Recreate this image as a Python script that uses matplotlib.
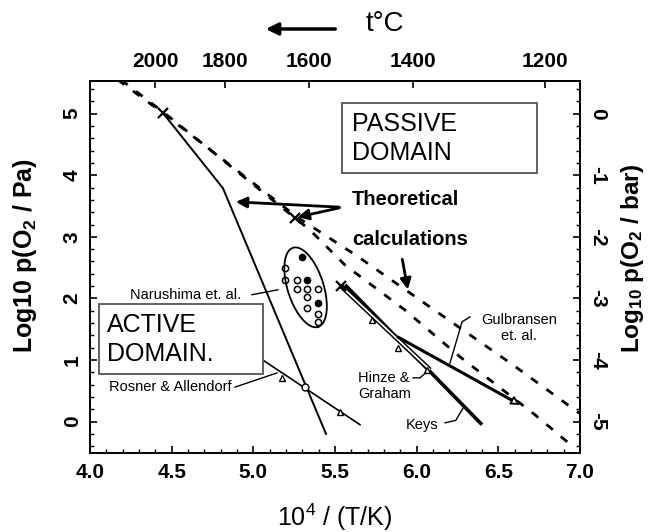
import numpy as np
import matplotlib
matplotlib.use('Agg')
import matplotlib.pyplot as plt
from matplotlib.patches import Rectangle, FancyArrowPatch
from matplotlib.ticker import AutoMinorLocator, FixedLocator

plt.rcParams['font.family'] = ['Liberation Sans', 'DejaVu Sans']
plt.rcParams['mathtext.fontset'] = 'custom'
plt.rcParams['mathtext.rm'] = 'Liberation Sans'
plt.rcParams['mathtext.bf'] = 'Liberation Sans:bold'
plt.rcParams['mathtext.it'] = 'Liberation Sans:italic'

# ---- data (x = 10^4/T, y = log10 p(O2/Pa)) ----
# theoretical calculations (two dashed curves)
theo_u_x = [4.17, 4.447, 5.268, 5.635, 6.125, 6.590, 6.952, 7.00]
theo_u_y = [5.55, 5.01, 3.32, 2.69, 1.78, 0.92, 0.22, 0.13]
theo_m_x = [4.19, 4.47, 5.347, 5.562, 5.929, 6.266, 6.725, 6.958]
theo_m_y = [5.55, 4.98, 3.11, 2.54, 1.81, 1.05, 0.11, -0.41]

# active/passive transition (solid steep line)
trans_x = [4.447, 4.814, 5.445]
trans_y = [5.01, 3.79, -0.20]

# Rosner & Allendorf
rosner_x = [4.95, 5.653]
rosner_y = [1.19, -0.05]
rosner_tri_x = [5.176, 5.531]
rosner_tri_y = [0.71, 0.16]
rosner_circ_x = [5.317]
rosner_circ_y = [0.56]

# Keys
keys_x = [5.562, 6.400]
keys_y = [2.22, -0.05]

# Hinze & Graham
hinze_x = [5.537, 6.082]
hinze_y = [2.20, 0.84]
hinze_tri_x = [5.727, 5.886, 6.064]
hinze_tri_y = [1.65, 1.20, 0.84]

# Gulbransen et. al.
gulb_x = [5.880, 6.615]
gulb_y = [1.38, 0.30]

# Narushima et. al.
naru_open_x = [5.194, 5.194, 5.268, 5.268, 5.329, 5.396, 5.329, 5.329, 5.396, 5.396]
naru_open_y = [2.50, 2.30, 2.30, 2.15, 2.15, 2.15, 2.02, 1.85, 1.75, 1.62]
naru_fill_x = [5.298, 5.329, 5.396]
naru_fill_y = [2.67, 2.30, 1.93]

cross_x = [4.447, 5.255, 5.537]
cross_y = [5.01, 3.31, 2.20]

temp_ticks = [2000, 1800, 1600, 1400, 1200]

W, H = 653, 532
xmin, xmax = 4.0, 7.0
ymin, ymax = -0.51, 5.53

fig = plt.figure(figsize=(W / 100, H / 100), dpi=100)
ax = fig.add_axes([0.1378, 0.1485, 0.7504, 0.6992])
ax.set_xlim(xmin, xmax)
ax.set_ylim(ymin, ymax)

# dashed theoretical lines
for xs, ys in [(theo_u_x, theo_u_y), (theo_m_x, theo_m_y)]:
    ln, = ax.plot(xs, ys, color='black', lw=2.0)
    ln.set_dashes((3.0, 3.8))

ax.plot(trans_x, trans_y, color='black', lw=1.4)
ax.plot(rosner_x, rosner_y, color='black', lw=1.2)
ax.plot(rosner_tri_x, rosner_tri_y, ls='none', marker='^', ms=5, mfc='white', mec='black', mew=1)
ax.plot(rosner_circ_x, rosner_circ_y, ls='none', marker='o', ms=5, mfc='white', mec='black', mew=1)

ax.plot(keys_x, keys_y, color='black', lw=2.6, solid_capstyle='butt')
ax.plot(hinze_x, hinze_y, color='black', lw=3.4, solid_capstyle='butt')
ax.plot(hinze_x, hinze_y, color='white', lw=1.3, solid_capstyle='butt')
ax.plot(hinze_tri_x, hinze_tri_y, ls='none', marker='^', ms=5, mfc='white', mec='black', mew=1)

ax.plot(gulb_x, gulb_y, color='black', lw=2.2, solid_capstyle='butt')
g_slope = (gulb_y[1] - gulb_y[0]) / (gulb_x[1] - gulb_x[0])
ax.annotate('', xy=(gulb_x[1] + 0.02, gulb_y[1] + 0.02 * g_slope),
            xytext=(gulb_x[1] - 0.06, gulb_y[1] - 0.06 * g_slope),
            arrowprops=dict(arrowstyle='-|>', fc='white', ec='black', lw=1.4,
                            mutation_scale=13, shrinkA=0, shrinkB=0))

ax.plot(naru_open_x, naru_open_y, ls='none', marker='o', ms=4.5, mfc='white', mec='black', mew=1.1)
ax.plot(naru_fill_x, naru_fill_y, ls='none', marker='o', ms=4.5, mfc='black', mec='black')
ax.plot(cross_x, cross_y, ls='none', marker='x', ms=7, mec='black', mew=1.6)

# ellipse round Narushima points, drawn in pixel units
pos = ax.get_position()
sx = pos.width * W / (xmax - xmin)
sy = pos.height * H / (ymax - ymin)
tt = np.linspace(0, 2 * np.pi, 200)
ang = np.deg2rad(-72.4)
ex = 41.5 * np.cos(tt) * np.cos(ang) - 18 * np.sin(tt) * np.sin(ang)
ey = 41.5 * np.cos(tt) * np.sin(ang) + 18 * np.sin(tt) * np.cos(ang)
ax.plot(5.320 + ex / sx, 2.18 + ey / sy, color='black', lw=1.3)

# boxes
ax.add_patch(Rectangle((5.543, 4.04), 1.194, 1.13, fc='white', ec='#555555', lw=1.3, zorder=3))
ax.text(5.604, 4.60, 'PASSIVE\nDOMAIN', fontsize=18, ha='left', va='center', linespacing=1.25, zorder=4)
ax.add_patch(Rectangle((4.055, 0.774), 1.004, 1.136, fc='white', ec='#555555', lw=1.3, zorder=3))
ax.text(4.104, 1.33, 'ACTIVE\nDOMAIN.', fontsize=18, ha='left', va='center', linespacing=1.25, zorder=4)

# annotations
ax.text(5.604, 3.60, 'Theoretical', fontsize=14.5, fontweight='bold', ha='left', va='center')
ax.text(5.604, 2.95, 'calculations', fontsize=14.5, fontweight='bold', ha='left', va='center')
for tip in [(4.876, 3.57), (5.255, 3.31)]:
    ax.annotate('', xy=tip, xytext=(5.543, 3.48),
                arrowprops=dict(arrowstyle='-|>', color='black', lw=2, mutation_scale=16))
ax.annotate('', xy=(5.949, 2.10), xytext=(5.909, 2.68),
            arrowprops=dict(arrowstyle='-|>', color='black', lw=2, mutation_scale=16))

ax.text(4.588, 2.06, 'Narushima et. al.', fontsize=10.5, ha='center', va='center')
ax.plot([4.992, 5.151], [2.06, 2.14], color='black', lw=1)
ax.text(4.49, 0.56, 'Rosner & Allendorf', fontsize=10.5, ha='center', va='center')
ax.plot([4.888, 5.145], [0.56, 0.79], color='black', lw=1)
ax.text(6.627, 1.52, 'Gulbransen\net. al.', fontsize=10.5, ha='center', va='center', linespacing=1.2)
ax.plot([6.327, 6.278, 6.204], [1.70, 1.62, 0.95], color='black', lw=1)
ax.text(5.641, 0.58, 'Hinze &\nGraham', fontsize=10.5, ha='left', va='center', linespacing=1.2)
ax.plot([5.978, 6.02, 6.055], [0.71, 0.71, 0.79], color='black', lw=1)
ax.text(6.033, -0.05, 'Keys', fontsize=10.5, ha='center', va='center')
ax.plot([6.174, 6.24, 6.284], [-0.02, 0.02, 0.22], color='black', lw=1)

# axes styling
for sp in ax.spines.values():
    sp.set_linewidth(1.4)
ax.xaxis.set_minor_locator(AutoMinorLocator(5))
ax.yaxis.set_minor_locator(AutoMinorLocator(5))
xt = np.arange(4.0, 7.01, 0.5)
ax.set_xticks(xt)
ax.set_xticklabels([f'{v:.1f}' for v in xt], fontsize=15, fontweight='bold')
ax.set_yticks(range(0, 6))
ax.set_yticklabels([str(v) for v in range(0, 6)], fontsize=15, fontweight='bold')
ax.tick_params(axis='both', which='both', direction='in')
ax.tick_params(axis='x', pad=7)
ax.tick_params(axis='y', pad=6)
ax.tick_params(axis='both', which='major', length=5, width=1.2)
ax.tick_params(axis='both', which='minor', length=3, width=1)
ax.tick_params(axis='y', labelrotation=90)
for lab in ax.get_yticklabels():
    lab.set_va('center')

ax.set_xlabel('10$^4$ / (T/K)', fontsize=18, labelpad=14)
ax.set_ylabel(r'Log10 p(O$_\mathbf{2}$ / Pa)', fontsize=18, fontweight='bold')
ax.yaxis.set_label_coords(-0.105, 0.53)

# right axis in bar
sec_y = ax.secondary_yaxis('right', functions=(lambda y: y - 5, lambda y: y + 5))
sec_y.set_yticks(range(-5, 1))
sec_y.set_yticklabels([str(v) for v in range(-5, 1)], fontsize=15, fontweight='bold')
sec_y.yaxis.set_minor_locator(AutoMinorLocator(5))
sec_y.tick_params(axis='y', which='both', direction='in', pad=6, labelrotation=-90)
sec_y.tick_params(axis='y', which='major', length=5, width=1.2)
sec_y.tick_params(axis='y', which='minor', length=3, width=1)
for lab in sec_y.get_yticklabels():
    lab.set_va('center')
sec_y.spines['right'].set_linewidth(1.4)

# right axis title placed in figure coordinates
fig.text(633 / W, 1 - 258 / H, r'Log$_\mathbf{10}$ p(O$_\mathbf{2}$ / bar)', fontsize=17.5,
         fontweight='bold', rotation=90, ha='center', va='center')


# top axis in degrees C
def to_celsius(x):
    x = np.asarray(x, dtype=float)
    with np.errstate(divide='ignore'):
        return 1e4 / x - 273.15


def to_inv(t):
    t = np.asarray(t, dtype=float)
    with np.errstate(divide='ignore'):
        return 1e4 / (t + 273.15)


sec_x = ax.secondary_xaxis('top', functions=(to_celsius, to_inv))
sec_x.xaxis.set_major_locator(FixedLocator(temp_ticks))
sec_x.set_xticklabels([str(v) for v in temp_ticks], fontsize=15, fontweight='bold')
sec_x.tick_params(axis='x', which='both', direction='in', length=5, width=1.2, pad=7)
sec_x.spines['top'].set_linewidth(1.4)

# arrow and unit above the top axis
fig.text(385 / W, 1 - 24 / H, 't°C', fontsize=20, ha='center', va='center')
fig.patches.append(FancyArrowPatch(
    (338 / W, 1 - 29 / H), (263 / W, 1 - 29 / H), transform=fig.transFigure,
    arrowstyle='-|>', mutation_scale=18, lw=2.5, color='black'))

fig.savefig('out.png', dpi=100)
